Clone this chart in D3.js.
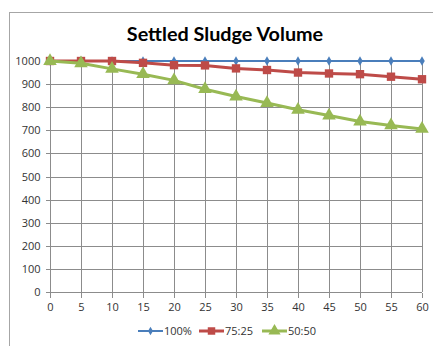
<!DOCTYPE html>
<html><head><meta charset="utf-8">
<script src="https://cdn.jsdelivr.net/npm/d3@7"></script>
<style>
body{margin:0;background:#fff;}
svg{display:block;font-family:"Open Sans","DejaVu Sans",sans-serif;}
</style></head>
<body><div id="chart"></div>
<script>
const xValues = [0,5,10,15,20,25,30,35,40,45,50,55,60];
const series100 = [1000,1000,1000,1000,1000,1000,1000,1000,1000,1000,1000,1000,1000];
const series7525 = [1000,1000,1000,992,982,981,968,961,950,946,943,932,921];
const series5050 = [1000,990,966,943,916,878,846,818,789,764,738,721,706];
const seriesNames = ["100%","75:25","50:50"];
const seriesColors = ["#4A7EBB","#BE4B48","#98B954"];
const yTicks = [0,100,200,300,400,500,600,700,800,900,1000];

const W=433,H=346;
const svg=d3.select("#chart").append("svg").attr("width",W).attr("height",H);
svg.append("rect").attr("x",9.5).attr("y",12.5).attr("width",440).attr("height",360)
  .attr("fill","#fff").attr("stroke","#a6a6a6");

svg.append("text").attr("x",225).attr("y",41).attr("text-anchor","middle")
  .attr("font-size",19.8).attr("font-weight","bold").attr("fill","#000")
  .attr("font-family","Lato, 'Open Sans', sans-serif")
  .text("Settled Sludge Volume");

const x=d3.scaleLinear().domain([0,60]).range([50,422]);
const y=d3.scaleLinear().domain([0,1000]).range([292,61]);
const grid="#8c8c8c";

svg.append("g").selectAll("line").data(yTicks.filter(d=>d>0)).join("line")
  .attr("x1",x(0)).attr("x2",x(60)).attr("y1",d=>Math.round(y(d))+0.5).attr("y2",d=>Math.round(y(d))+0.5)
  .attr("stroke",grid).attr("stroke-width",1);
svg.append("g").selectAll("line").data(xValues.filter(d=>d>0)).join("line")
  .attr("x1",d=>Math.round(x(d))+0.5).attr("x2",d=>Math.round(x(d))+0.5).attr("y1",y(1000)).attr("y2",y(0))
  .attr("stroke",grid).attr("stroke-width",1);

const yAxis=svg.append("g").attr("transform",`translate(${Math.round(x(0))+0.5},0)`)
  .call(d3.axisLeft(y).tickValues(yTicks).tickSize(5).tickPadding(5).tickFormat(d3.format("d")));
const xAxis=svg.append("g").attr("transform",`translate(0,${Math.round(y(0))+0.5})`)
  .call(d3.axisBottom(x).tickValues(xValues).tickSize(5).tickPadding(6).tickFormat(d3.format("d")));
[yAxis,xAxis].forEach(a=>{
  a.selectAll("path,line").attr("stroke",grid).attr("shape-rendering","crispEdges");
  a.select(".domain").attr("d", a===yAxis ? `M0,${y(0)}V${y(1000)}` : `M${x(0)},0H${x(60)}`);
  a.selectAll("text").attr("font-size",11).attr("fill","#333").attr("font-family","'Open Sans',sans-serif");
});

const allSeries=[series100,series7525,series5050];
const widths=[2,3,3];
const line=d3.line().x((d,i)=>x(xValues[i])).y(d=>y(d));
const symbols=[d3.symbolDiamond,d3.symbolSquare,d3.symbolTriangle];
const sizes=[26,70,80];
allSeries.forEach((s,k)=>{
  const g=svg.append("g");
  g.append("path").datum(s).attr("d",line).attr("fill","none")
    .attr("stroke",seriesColors[k]).attr("stroke-width",widths[k]).attr("stroke-linejoin","round");
  g.selectAll("path.m").data(s).join("path").attr("class","m")
    .attr("transform",(d,i)=>`translate(${x(xValues[i])},${y(d)})`)
    .attr("d",d3.symbol(symbols[k],sizes[k])).attr("fill",seriesColors[k]);
});

const legX=[138,199,262];
const leg=svg.append("g");
seriesNames.forEach((n,k)=>{
  const g=leg.append("g").attr("transform",`translate(${legX[k]},331)`);
  g.append("line").attr("x1",0).attr("x2",25).attr("stroke",seriesColors[k]).attr("stroke-width",widths[k]);
  g.append("path").attr("transform","translate(12.5,0)").attr("d",d3.symbol(symbols[k],sizes[k]*0.8)).attr("fill",seriesColors[k]);
  g.append("text").attr("x",26).attr("y",4).attr("font-size",11).attr("fill","#333")
    .attr("font-family","'Open Sans',sans-serif").text(n);
});
</script></body></html>
